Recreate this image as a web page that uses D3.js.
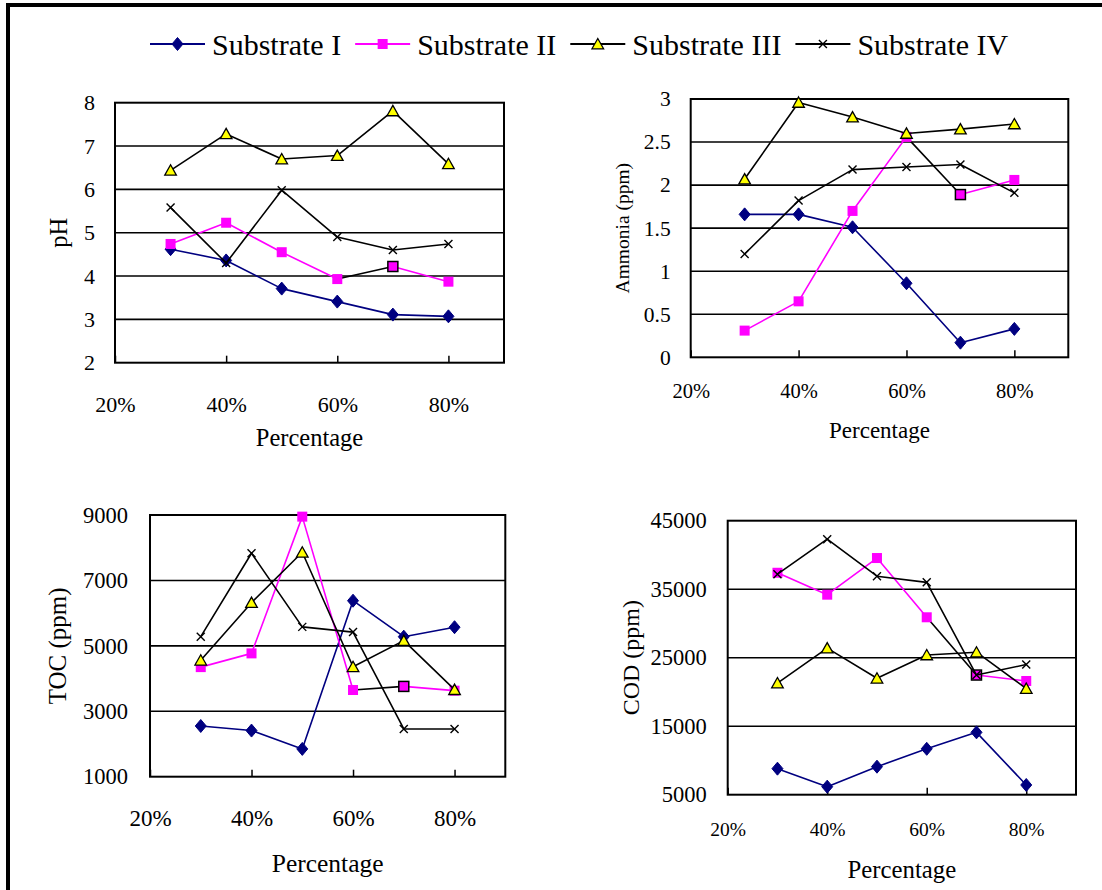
<!DOCTYPE html>
<html>
<head>
<meta charset="utf-8">
<script src="https://cdn.jsdelivr.net/npm/d3@7"></script>
<style>
  html, body { margin: 0; padding: 0; background: #fff; }
  svg { display: block; }
  text { font-family: "Liberation Serif", "Times New Roman", serif; fill: #000; }
</style>
</head>
<body>
<svg id="chart" width="1102" height="890"></svg>
<script>
// Share of substrate in the mix (x positions of every series)
const percentages = [0.3, 0.4, 0.5, 0.6, 0.7, 0.8];
const xTickValues = [0.2, 0.4, 0.6, 0.8];
const seriesNames = ["Substrate I", "Substrate II", "Substrate III", "Substrate IV"];

// pH
const phI   = [4.62, 4.36, 3.71, 3.41, 3.11, 3.07];
const phII  = [4.74, 5.23, 4.55, 3.93, 4.22, 3.87];
const phIII = [6.44, 7.28, 6.70, 6.78, 7.81, 6.59];
const phIV  = [5.58, 4.30, 5.98, 4.90, 4.60, 4.74];
const phTicks = [2, 3, 4, 5, 6, 7, 8];

// Ammonia (ppm)
const nh3I   = [1.66, 1.66, 1.51, 0.86, 0.17, 0.33];
const nh3II  = [0.31, 0.65, 1.70, 2.56, 1.89, 2.06];
const nh3III = [2.07, 2.96, 2.79, 2.60, 2.65, 2.71];
const nh3IV  = [1.20, 1.82, 2.18, 2.21, 2.24, 1.91];
const nh3Ticks = [0, 0.5, 1, 1.5, 2, 2.5, 3];

// TOC (ppm)
const tocI   = [2550, 2410, 1850, 6380, 5280, 5570];
const tocII  = [4350, 4770, 8950, 3650, 3760, 3630];
const tocIII = [4560, 6320, 7860, 4360, 5160, 3660];
const tocIV  = [5280, 7830, 5580, 5420, 2460, 2460];
const tocTicks = [1000, 3000, 5000, 7000, 9000];

// COD (ppm)
const codI   = [8800, 6170, 9090, 11700, 14100, 6420];
const codII  = [37400, 34200, 39550, 30900, 22470, 21600];
const codIII = [21300, 26400, 22000, 25400, 25800, 20500];
const codIV  = [37200, 42300, 36900, 36000, 22470, 24000];
const codTicks = [5000, 15000, 25000, 35000, 45000];

// Series appearance
const styles = [
  { line: "#000080", marker: "diamond",  fill: "#000080", stroke: "#000080" },
  { line: "#FF00FF", marker: "square",   fill: "#FF00FF", stroke: "#FF00FF" },
  { line: "#000000", marker: "triangle", fill: "#FFFF00", stroke: "#000000" },
  { line: "#000000", marker: "cross",    fill: "none",    stroke: "#000000" }
];
// Substrate II, 70 % point carries its own (black) formatting
const specialSeries = 1, specialIndex = 4;

const svg = d3.select("#chart");

// outer frame (top and left edges visible)
svg.append("rect")
  .attr("x", 8).attr("y", 5).attr("width", 1300).attr("height", 1000)
  .attr("fill", "none").attr("stroke", "#000").attr("stroke-width", 4);

function drawMarker(g, type, x, y, fill, stroke) {
  if (type === "diamond") {
    g.append("path").attr("d", `M${x},${y-6.5}L${x+5.5},${y}L${x},${y+6.5}L${x-5.5},${y}Z`)
      .attr("fill", fill).attr("stroke", stroke).attr("stroke-width", 1);
  } else if (type === "square") {
    g.append("rect").attr("x", x - 5).attr("y", y - 5).attr("width", 10).attr("height", 10)
      .attr("fill", fill).attr("stroke", stroke).attr("stroke-width", stroke === fill ? 0 : 1.5);
  } else if (type === "triangle") {
    g.append("path").attr("d", `M${x},${y-5.5}L${x+5.8},${y+4.8}L${x-5.8},${y+4.8}Z`)
      .attr("fill", fill).attr("stroke", stroke).attr("stroke-width", 1.3);
  } else if (type === "cross") {
    g.append("path").attr("d", `M${x-4},${y-4}L${x+4},${y+4}M${x-4},${y+4}L${x+4},${y-4}`)
      .attr("fill", "none").attr("stroke", stroke).attr("stroke-width", 1.4);
  }
}

const panels = [
  { box: { l: 115, t: 102.7, r: 504, b: 362.7 }, domain: [2, 8], ticks: phTicks,
    series: [phI, phII, phIII, phIV], yTitle: "pH", yTitleX: 58, yTitleSize: 24.5,
    yTickSize: 22, yTickGap: 20, xTickSize: 22, xTickOffset: 42,
    xTitleOffset: 75, xTitleSize: 24.5 },
  { box: { l: 690.7, t: 99, r: 1068.3, b: 357.3 }, domain: [0, 3], ticks: nh3Ticks,
    series: [nh3I, nh3II, nh3III, nh3IV], yTitle: "Ammonia (ppm)", yTitleX: 622, yTitleSize: 19.5,
    yTickSize: 21.5, yTickGap: 20, xTickSize: 20.5, xTickOffset: 34,
    xTitleOffset: 73, xTitleSize: 23 },
  { box: { l: 150, t: 515, r: 505.3, b: 776.7 }, domain: [1000, 9000], ticks: tocTicks,
    series: [tocI, tocII, tocIII, tocIV], yTitle: "TOC (ppm)", yTitleX: 57, yTitleSize: 25,
    yTickSize: 22.5, yTickGap: 22, xTickSize: 23, xTickOffset: 41.5,
    xTitleOffset: 86, xTitleSize: 25.5 },
  { box: { l: 727.7, t: 520.7, r: 1076, b: 794.7 }, domain: [5000, 45000], ticks: codTicks,
    series: [codI, codII, codIII, codIV], yTitle: "COD (ppm)", yTitleX: 631, yTitleSize: 24,
    yTickSize: 22.5, yTickGap: 21, xTickSize: 19.5, xTickOffset: 34,
    xTitleOffset: 75, xTitleSize: 24.8 }
];

panels.forEach(p => {
  const { l, t, r, b } = p.box;
  const x = d3.scaleLinear().domain([0.2, 0.9]).range([l, r]);
  const y = d3.scaleLinear().domain(p.domain).range([b, t]);
  const g = svg.append("g");

  // horizontal gridlines
  g.append("g").selectAll("line")
    .data(p.ticks.slice(1, -1))
    .join("line")
    .attr("x1", l).attr("x2", r)
    .attr("y1", d => y(d)).attr("y2", d => y(d))
    .attr("stroke", "#000").attr("stroke-width", 1.6);

  // plot-area border
  g.append("rect").attr("x", l).attr("y", t).attr("width", r - l).attr("height", b - t)
    .attr("fill", "none").attr("stroke", "#000").attr("stroke-width", 2);

  // y axis labels
  const yAxis = d3.axisLeft(y).tickValues(p.ticks).tickSize(0).tickPadding(p.yTickGap)
    .tickFormat(d => String(d));
  const ya = g.append("g").attr("transform", `translate(${l},0)`).call(yAxis);
  ya.select(".domain").remove();
  ya.selectAll("text").attr("font-size", p.yTickSize)
    .style("font-family", '"Liberation Serif", "Times New Roman", serif').attr("fill", "#000");

  // x axis: inside tick marks, percentage labels
  const xAxis = d3.axisBottom(x).tickValues(xTickValues).tickSizeInner(-7).tickSizeOuter(0)
    .tickPadding(0).tickFormat(d3.format(".0%"));
  const xa = g.append("g").attr("transform", `translate(0,${b})`).call(xAxis);
  xa.select(".domain").remove();
  xa.selectAll("line").attr("stroke", "#000").attr("stroke-width", 1.5);
  xa.selectAll("text").attr("y", p.xTickOffset).attr("dy", "0.35em")
    .attr("font-size", p.xTickSize)
    .style("font-family", '"Liberation Serif", "Times New Roman", serif').attr("fill", "#000");

  // axis titles
  g.append("text").attr("x", (l + r) / 2).attr("y", b + p.xTitleOffset)
    .attr("text-anchor", "middle").attr("dy", "0.35em")
    .attr("font-size", p.xTitleSize).text("Percentage");
  g.append("text")
    .attr("transform", `translate(${p.yTitleX},${(t + b) / 2}) rotate(-90)`)
    .attr("text-anchor", "middle").attr("dy", "0.35em")
    .attr("font-size", p.yTitleSize).text(p.yTitle);

  // series lines and markers
  p.series.forEach((vals, si) => {
    const st = styles[si];
    const sg = g.append("g");
    for (let i = 1; i < vals.length; i++) {
      const special = si === specialSeries && i === specialIndex;
      sg.append("line")
        .attr("x1", x(percentages[i - 1])).attr("y1", y(vals[i - 1]))
        .attr("x2", x(percentages[i])).attr("y2", y(vals[i]))
        .attr("stroke", special ? "#000" : st.line).attr("stroke-width", 1.6)
        .attr("stroke-linecap", "round");
    }
    vals.forEach((v, i) => {
      const special = si === specialSeries && i === specialIndex;
      drawMarker(sg, st.marker, x(percentages[i]), y(v), st.fill, special ? "#000" : st.stroke);
    });
  });
});

// legend
const legend = svg.append("g");
let lx = 150;
const ly = 44;
seriesNames.forEach((name, si) => {
  const st = styles[si];
  legend.append("line").attr("x1", lx).attr("x2", lx + 55).attr("y1", ly).attr("y2", ly)
    .attr("stroke", st.line).attr("stroke-width", 2);
  drawMarker(legend, st.marker, lx + 27.5, ly, st.fill, st.stroke);
  const txt = legend.append("text").attr("x", lx + 62).attr("y", ly).attr("dy", "0.35em")
    .attr("font-size", 30).text(name);
  lx += 62 + txt.node().getComputedTextLength() + 14;
});
</script>
</body>
</html>
